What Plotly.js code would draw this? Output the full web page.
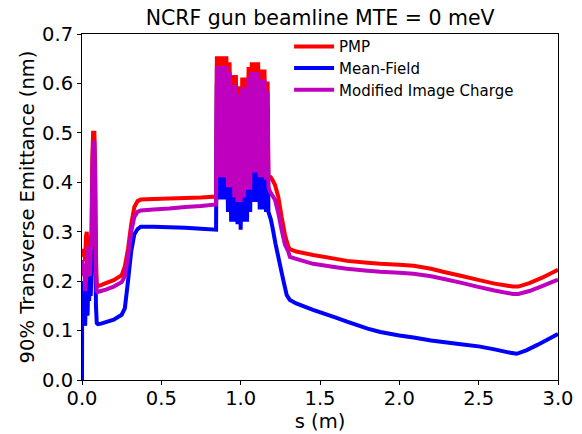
<!DOCTYPE html>
<html>
<head>
<meta charset="utf-8">
<script src="https://cdn.plot.ly/plotly-3.0.1.min.js"></script>
<style>
  html, body { margin: 0; padding: 0; background: #fff; }
  #chart { width: 582px; height: 434px; }
</style>
</head>
<body>
<div id="chart"></div>
<script>
// Beamline position s (m) and 90% transverse emittance (nm) for each model.

// --- PMP ---
const pmpS = [
  0.0, 0.005, 0.01, 0.015, 0.02, 0.025, 0.03, 0.035, 0.04, 0.045, 0.05, 0.06, 0.065, 0.07, 0.078, 0.083, 0.088, 0.093, 0.1,
  0.12, 0.15, 0.2, 0.25, 0.27, 0.29, 0.31, 0.33, 0.35, 0.37, 0.45, 0.55, 0.65, 0.75, 0.845,
  0.85, 0.86, 0.87, 0.88, 0.89, 0.90, 0.91, 0.92, 0.93, 0.94, 0.95, 0.96, 0.97, 0.98, 0.99, 1.00,
  1.01, 1.02, 1.03, 1.04, 1.05, 1.06, 1.07, 1.08, 1.09, 1.10, 1.11, 1.12, 1.13, 1.14, 1.15, 1.16, 1.17,
  1.175, 1.19, 1.2, 1.216, 1.237, 1.258, 1.279, 1.30, 1.31, 1.35, 1.456, 1.6, 1.67, 1.8, 1.88, 2.0, 2.09,
  2.2, 2.275, 2.4, 2.49, 2.6, 2.716, 2.75, 2.82, 2.9, 3.0
];
const pmpY = [
  0.25, 0.265, 0.25, 0.26, 0.24, 0.29, 0.30, 0.26, 0.28, 0.25, 0.27, 0.30, 0.45, 0.50, 0.50, 0.43, 0.25, 0.193, 0.19,
  0.192, 0.196, 0.202, 0.212, 0.23, 0.265, 0.315, 0.35, 0.362, 0.365, 0.366, 0.367, 0.368, 0.369, 0.371,
  0.655, 0.43, 0.655, 0.43, 0.655, 0.43, 0.655, 0.41, 0.643, 0.41, 0.617, 0.39, 0.617, 0.38, 0.594, 0.38,
  0.612, 0.39, 0.612, 0.40, 0.633, 0.40, 0.643, 0.44, 0.643, 0.44, 0.643, 0.43, 0.628, 0.43, 0.628, 0.42, 0.604,
  0.41, 0.41, 0.405, 0.395, 0.371, 0.33, 0.294, 0.27, 0.265, 0.26, 0.253, 0.245, 0.241, 0.237, 0.235, 0.233, 0.231,
  0.225, 0.219, 0.21, 0.203, 0.195, 0.189, 0.189, 0.196, 0.207, 0.223
];

// --- Mean-Field ---
const mfS = [
  0.0, 0.001, 0.005, 0.01, 0.015, 0.02, 0.025, 0.03, 0.035, 0.04, 0.045, 0.05, 0.055, 0.06, 0.065, 0.07, 0.078, 0.083, 0.088, 0.093, 0.1,
  0.12, 0.15, 0.2, 0.25, 0.27, 0.29, 0.31, 0.33, 0.35, 0.37, 0.45, 0.55, 0.65, 0.75, 0.845,
  0.85, 0.86, 0.87, 0.88, 0.89, 0.90, 0.91, 0.92, 0.93, 0.94, 0.95, 0.96, 0.97, 0.98, 0.99, 1.00,
  1.01, 1.02, 1.03, 1.04, 1.05, 1.06, 1.07, 1.08, 1.09, 1.10, 1.11, 1.12, 1.13, 1.14, 1.15, 1.16, 1.17,
  1.175, 1.19, 1.2, 1.22, 1.25, 1.27, 1.29, 1.31, 1.35, 1.456, 1.6, 1.67, 1.8, 1.88, 2.0, 2.09,
  2.2, 2.275, 2.4, 2.5, 2.6, 2.7, 2.74, 2.8, 2.87, 3.0
];
const mfY = [
  0.0, 0.19, 0.17, 0.20, 0.12, 0.11, 0.18, 0.15, 0.13, 0.20, 0.16, 0.21, 0.17, 0.22, 0.35, 0.42, 0.42, 0.30, 0.15, 0.115, 0.113,
  0.114, 0.117, 0.122, 0.132, 0.145, 0.20, 0.26, 0.295, 0.305, 0.31, 0.31, 0.309, 0.308, 0.306, 0.304,
  0.60, 0.365, 0.60, 0.365, 0.60, 0.365, 0.60, 0.34, 0.59, 0.32, 0.57, 0.32, 0.57, 0.315, 0.55, 0.304,
  0.56, 0.32, 0.56, 0.32, 0.58, 0.34, 0.59, 0.36, 0.59, 0.36, 0.59, 0.345, 0.58, 0.345, 0.58, 0.34, 0.55,
  0.34, 0.325, 0.31, 0.275, 0.23, 0.20, 0.172, 0.162, 0.155, 0.142, 0.126, 0.118, 0.104, 0.097, 0.09, 0.086,
  0.08, 0.077, 0.072, 0.068, 0.062, 0.055, 0.053, 0.06, 0.071, 0.093
];

// --- Modified Image Charge ---
const micS = [
  0.0, 0.005, 0.01, 0.015, 0.02, 0.025, 0.03, 0.035, 0.04, 0.045, 0.05, 0.055, 0.06, 0.065, 0.07, 0.078, 0.083, 0.088, 0.093, 0.1,
  0.12, 0.15, 0.2, 0.25, 0.27, 0.29, 0.31, 0.33, 0.35, 0.37, 0.45, 0.55, 0.65, 0.75, 0.845,
  0.85, 0.86, 0.87, 0.88, 0.89, 0.90, 0.91, 0.92, 0.93, 0.94, 0.95, 0.96, 0.97, 0.98, 0.99, 1.00,
  1.01, 1.02, 1.03, 1.04, 1.05, 1.06, 1.07, 1.08, 1.09, 1.10, 1.11, 1.12, 1.13, 1.14, 1.15, 1.16, 1.17,
  1.175, 1.185, 1.216, 1.237, 1.258, 1.279, 1.30, 1.31, 1.35, 1.456, 1.6, 1.67, 1.8, 1.88, 2.0, 2.09,
  2.2, 2.275, 2.4, 2.49, 2.6, 2.716, 2.75, 2.82, 2.9, 3.0
];
const micY = [
  0.243, 0.23, 0.21, 0.23, 0.18, 0.20, 0.24, 0.27, 0.22, 0.25, 0.21, 0.26, 0.28, 0.42, 0.48, 0.48, 0.40, 0.22, 0.18, 0.178,
  0.18, 0.183, 0.189, 0.198, 0.21, 0.25, 0.30, 0.33, 0.34, 0.343, 0.345, 0.347, 0.35, 0.352, 0.355,
  0.635, 0.41, 0.635, 0.41, 0.635, 0.41, 0.635, 0.39, 0.623, 0.39, 0.597, 0.37, 0.597, 0.36, 0.578, 0.36,
  0.592, 0.37, 0.592, 0.385, 0.613, 0.385, 0.623, 0.42, 0.623, 0.42, 0.623, 0.41, 0.608, 0.41, 0.608, 0.405, 0.584,
  0.39, 0.381, 0.365, 0.338, 0.304, 0.274, 0.26, 0.249, 0.245, 0.235, 0.228, 0.225, 0.221, 0.219, 0.217, 0.215,
  0.21, 0.205, 0.196, 0.189, 0.181, 0.174, 0.174, 0.18, 0.19, 0.203
];

const xTicks = [0.0, 0.5, 1.0, 1.5, 2.0, 2.5, 3.0];
const yTicks = [0.0, 0.1, 0.2, 0.3, 0.4, 0.5, 0.6, 0.7];

const font = 'DejaVu Sans, sans-serif';

function line(name, s, y, color, legendId) {
  return {
    type: 'scatter', mode: 'lines', name: name,
    x: s, y: y,
    line: { color: color, width: 4, simplify: false },
    legend: legendId,
    hoverinfo: 'skip'
  };
}

const traces = [
  line('PMP', pmpS, pmpY, '#ff0000', 'legend'),
  line('Mean-Field', mfS, mfY, '#0000ff', 'legend2'),
  line('Modified Image Charge', micS, micY, '#bf00bf', 'legend3')
];

const axisCommon = {
  showgrid: false, zeroline: false,
  showline: true, linecolor: '#000', linewidth: 1, mirror: true,
  ticks: 'outside', ticklen: 4, tickwidth: 1, tickcolor: '#000',
  tickfont: { family: font, size: 19.5, color: '#000' }
};

// One legend box per entry, stacked at fixed heights inside the plot area
function legendAt(yPaper) {
  return {
    x: 0.435, y: yPaper, xanchor: 'left', yanchor: 'middle',
    bgcolor: 'rgba(255,255,255,0)', borderwidth: 0,
    font: { family: font, size: 15, color: '#000' },
    itemwidth: 40, tracegroupgap: 0
  };
}

const layout = {
  width: 582, height: 434,
  margin: { l: 82, r: 24, t: 34, b: 54 },
  paper_bgcolor: '#fff', plot_bgcolor: '#fff',
  title: {
    text: 'NCRF gun beamline MTE = 0 meV',
    font: { family: font, size: 20.5, color: '#000' },
    x: 0.55, xanchor: 'center', y: 0.96, yanchor: 'middle'
  },
  xaxis: Object.assign({}, axisCommon, {
    range: [0, 3], tickvals: xTicks, ticktext: xTicks.map(v => v.toFixed(1)),
    ticklabelstandoff: -3,
    title: { text: 's (m)', font: { family: font, size: 19.5, color: '#000' }, standoff: 4 }
  }),
  yaxis: Object.assign({}, axisCommon, {
    range: [0, 0.7], tickvals: yTicks, ticktext: yTicks.map(v => v.toFixed(1)),
    title: { text: '90% Transverse Emittance (nm)', font: { family: font, size: 19.5, color: '#000' }, standoff: 2 }
  }),
  showlegend: true,
  legend: legendAt(0.963),
  legend2: legendAt(0.901),
  legend3: legendAt(0.838)
};

Plotly.newPlot('chart', traces, layout, { staticPlot: true, displayModeBar: false });
</script>
</body>
</html>
